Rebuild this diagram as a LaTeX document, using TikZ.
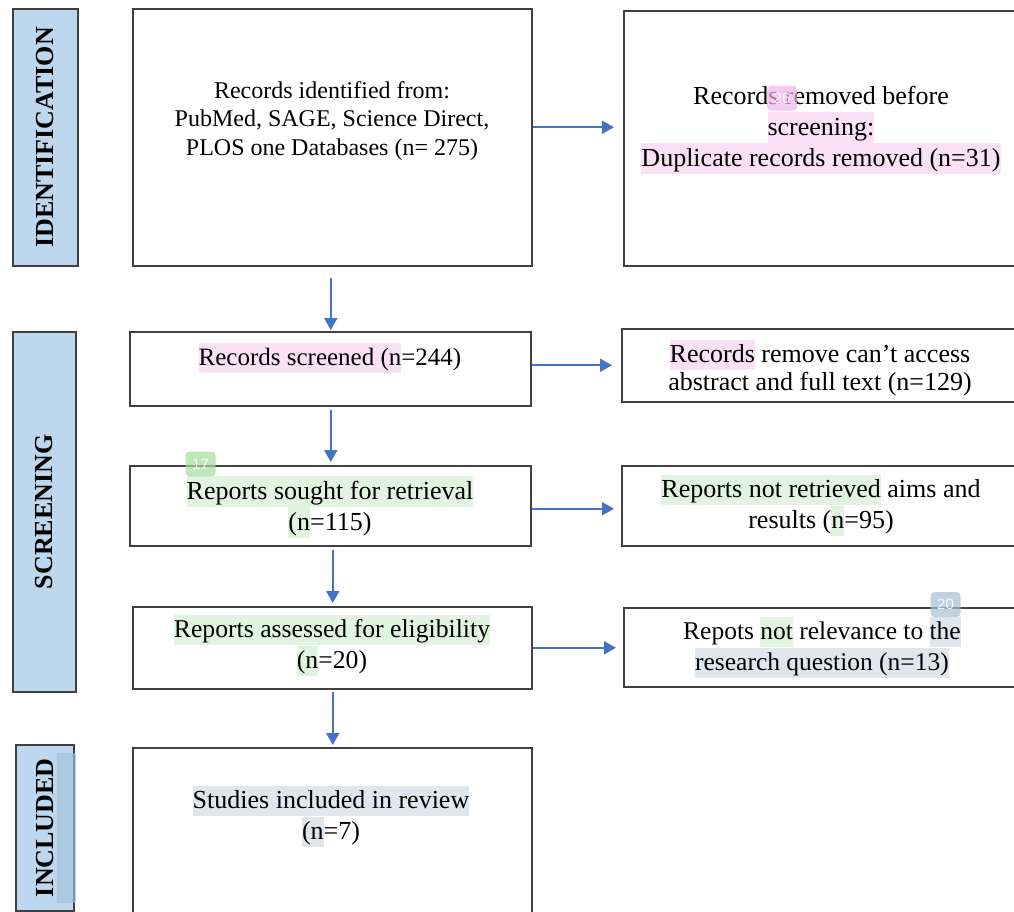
\documentclass[tikz,border=0pt]{standalone}
\usepackage{fontspec}
\setmainfont{Liberation Serif}
\newfontfamily\tagfont{Liberation Sans}
\usetikzlibrary{arrows.meta,calc}
\definecolor{lblue}{HTML}{BDD7EE}
\definecolor{arrowblue}{HTML}{4472C4}
\definecolor{boxgray}{HTML}{404040}
\definecolor{hlpink}{HTML}{FBE1F6}
\definecolor{hlgreen}{HTML}{E1F4DF}
\definecolor{hlblue}{HTML}{DFE6EE}
\definecolor{tagpink}{HTML}{F0B4EA}
\definecolor{taggreen}{HTML}{A6DE9E}
\definecolor{tagblue}{HTML}{A9BED3}
\definecolor{overlayblue}{HTML}{A2C0DD}
\newcommand\hlx[2]{{\setlength\fboxsep{0pt}\colorbox{#1}{\rule[-0.28em]{0pt}{1.17em}#2}}}
\begin{document}
\begin{tikzpicture}[x=1pt,y=-1pt,
  flowbox/.style={draw=boxgray, line width=1.5pt, fill=white, inner sep=0pt, anchor=north west},
  phase/.style={draw=boxgray, line width=1.5pt, fill=lblue, inner sep=0pt, anchor=north west},
  phasetext/.style={rotate=90, inner sep=0pt, font=\fontsize{26}{26}\selectfont\bfseries},
  txt/.style={align=center, inner sep=0pt},
  arr/.style={draw=arrowblue, line width=2pt, -{Triangle[width=13pt,length=12pt]}},
  tagbox/.style={rounded corners=4pt, minimum width=30pt, minimum height=25pt, inner sep=0pt,
    fill opacity=0.7, text opacity=0.9, text=white, font=\tagfont\fontsize{15}{15}\selectfont}
]
\useasboundingbox (0,0) rectangle (1014,911);
\clip (0,0) rectangle (1014,911);
\fill[white] (0,0) rectangle (1014,911);

% phase labels
\node[phase, minimum width=65pt, minimum height=257pt] (lid) at (12,8) {};
\node[phasetext] (lidt) at (lid.center) {IDENTIFICATION};
\node[phase, minimum width=63pt, minimum height=360pt] (lsc) at (12,331) {};
\node[phasetext] (lsct) at (lsc.center) {SCREENING};
\node[phase, minimum width=58pt, minimum height=166pt] (lin) at (15,744) {};
\node[phasetext] (lint) at (lin.center) {INCLUDED};
\fill[overlayblue, opacity=0.65] (57,753) rectangle (76,903);

% boxes
\node[flowbox, minimum width=399pt, minimum height=257pt] (b1) at (132,8) {};
\node[flowbox, minimum width=397pt, minimum height=255pt] (r1) at (623,10) {};
\node[flowbox, minimum width=401pt, minimum height=74pt] (b2) at (129,331) {};
\node[flowbox, minimum width=399pt, minimum height=73pt] (r2) at (621,328) {};
\node[flowbox, minimum width=401pt, minimum height=80pt] (b3) at (129,465) {};
\node[flowbox, minimum width=399pt, minimum height=80pt] (r3) at (621,465) {};
\node[flowbox, minimum width=399pt, minimum height=82pt] (b4) at (132,606) {};
\node[flowbox, minimum width=397pt, minimum height=79pt] (r4) at (623,607) {};
\node[flowbox, minimum width=399pt, minimum height=190pt] (b5) at (132,747) {};

% texts
\node[txt, font=\fontsize{24}{28.5}\selectfont] (t1) at (332,121)
  {Records identified from:\\PubMed, SAGE, Science Direct,\\PLOS one Databases (n= 275)};
\node[txt, font=\fontsize{26}{31}\selectfont] (tr1) at (821,130)
  {Records removed before\\\hlx{hlpink}{screening:}\\\hlx{hlpink}{Duplicate records removed (n=31)}};
\node[txt, font=\fontsize{25}{30}\selectfont] (t2) at (330,358)
  {\hlx{hlpink}{Records screened (n}=244)};
\node[txt, font=\fontsize{26}{28}\selectfont] (tr2) at (820,368)
  {\hlx{hlpink}{Records} remove can’t access\\abstract and full text (n=129)};
\node[txt, font=\fontsize{26}{31}\selectfont] (t3) at (330,507)
  {\hlx{hlgreen}{Reports sought for retrieval}\\\hlx{hlgreen}{(n}=115)};
\node[txt, font=\fontsize{26}{31}\selectfont] (tr3) at (821,505.5)
  {\hlx{hlgreen}{Reports not retrieved} aims and\\results (\hlx{hlgreen}{n}=95)};
\node[txt, font=\fontsize{25.7}{31}\selectfont] (t4) at (332,645.5)
  {\hlx{hlgreen}{Reports assessed for eligibility}\\\hlx{hlgreen}{(n}=20)};
\node[txt, font=\fontsize{25.5}{31}\selectfont] (tr4) at (822,647.5)
  {Repots \hlx{hlgreen}{not} relevance to \hlx{hlblue}{the}\\\hlx{hlblue}{research question (n=13)}};
\node[txt, font=\fontsize{26}{31}\selectfont] (t5) at (331,816.5)
  {\hlx{hlblue}{Studies included in review}\\\hlx{hlblue}{(n}=7)};

% annotation tags
\node[tagbox, fill=tagpink] (tg26) at (782,98) {26};
\node[tagbox, fill=taggreen] (tg17) at (200.5,464) {17};
\node[tagbox, fill=tagblue] (tg20) at (945.5,604.5) {20};

% connectors
\draw[arr, shorten >=9pt] ([yshift=10pt]b1.east) -- ([yshift=10pt]b1.east -| r1.west);
\draw[arr, shorten >=9pt] (b2.east |- r2.west) -- (r2.west);
\draw[arr, shorten >=7pt] ([yshift=-3pt]b3.east) -- ([yshift=-3pt]b3.east -| r3.west);
\draw[arr, shorten >=7pt] (b4.east) -- (b4.east -| r4.west);
\draw[arr, shorten <=11pt, shorten >=1pt] ([xshift=-1.5pt]b1.south) -- ([xshift=-1.5pt]b1.south |- b2.north);
\draw[arr, shorten <=3pt, shorten >=3pt] ([xshift=0.5pt]b2.south) -- ([xshift=0.5pt]b2.south |- b3.north);
\draw[arr, shorten <=3pt, shorten >=3pt] ([xshift=2.5pt]b3.south) -- ([xshift=2.5pt]b3.south |- b4.north);
\draw[arr, shorten <=2pt, shorten >=2pt] ([xshift=0.5pt]b4.south) -- ([xshift=0.5pt]b4.south |- b5.north);
\end{tikzpicture}
\end{document}
